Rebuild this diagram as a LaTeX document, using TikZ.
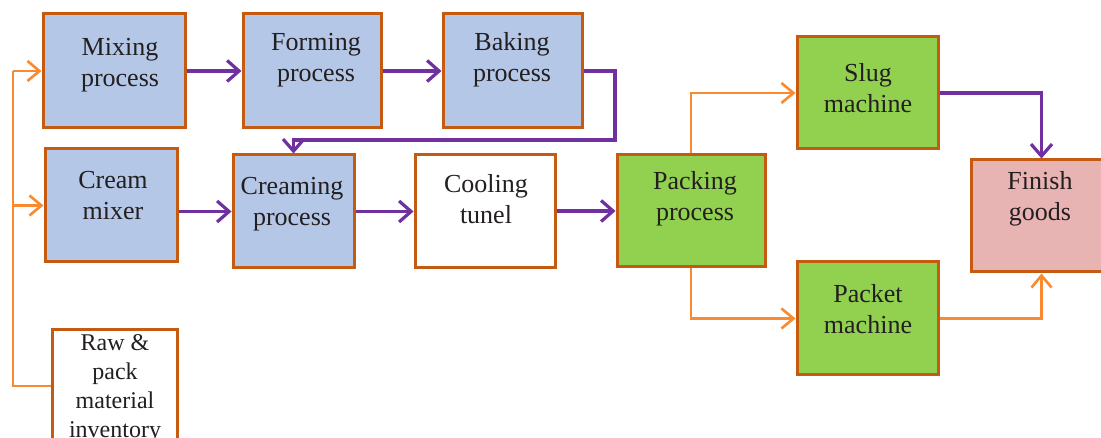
\documentclass[tikz,border=0pt]{standalone}
\usepackage{fontspec}
\setmainfont{Liberation Serif}
\usetikzlibrary{arrows.meta}
\definecolor{bord}{HTML}{C55A11}
\definecolor{bluef}{HTML}{B4C7E7}
\definecolor{greenf}{HTML}{92D050}
\definecolor{pinkf}{HTML}{E8B3B3}
\definecolor{oline}{HTML}{FA8A30}
\definecolor{pline}{HTML}{7030A0}
\definecolor{txt}{HTML}{231F20}
\tikzset{
  box/.style={draw=bord, line width=3pt, inner sep=0pt},
  lbl/.style={align=center, text=txt, font=\fontsize{26}{31}\selectfont, inner sep=0pt},
  oarr/.style={draw=oline, line width=2.6pt, -{Straight Barb[length=12pt,width=20pt,line width=2.6pt]}},
  oline/.style={draw=oline, line width=2.6pt},
  parr/.style={draw=pline, line width=3.2pt, -{Straight Barb[length=12pt,width=21pt,line width=3.2pt]}},
}
\begin{document}
\begin{tikzpicture}[x=1pt,y=-1pt]
\useasboundingbox (0,0) rectangle (1101,438);
% boxes
\node[box, fill=bluef, minimum width=142pt, minimum height=114pt] (mix) at (114,71) {};
\node[box, fill=bluef, minimum width=138pt, minimum height=114pt] (form) at (312,71) {};
\node[box, fill=bluef, minimum width=139pt, minimum height=114pt] (bake) at (512.5,71) {};
\node[box, fill=bluef, minimum width=132pt, minimum height=113pt] (cream) at (111,205.5) {};
\node[box, fill=bluef, minimum width=121pt, minimum height=113pt] (creaming) at (293.5,211.5) {};
\node[box, fill=white, minimum width=140pt, minimum height=113pt] (cool) at (485,211.5) {};
\node[box, fill=greenf, minimum width=148pt, minimum height=112pt] (pack) at (691,211) {};
\node[box, fill=greenf, minimum width=141pt, minimum height=112pt] (slug) at (867.5,93) {};
\node[box, fill=greenf, minimum width=141pt, minimum height=113pt] (packet) at (867.5,318.5) {};
\node[box, fill=pinkf, minimum width=141pt, minimum height=112pt] (finish) at (1041.5,216) {};
\node[box, fill=white, minimum width=125pt, minimum height=112pt] (raw) at (114.5,386) {};
% labels
\node[lbl] (mixT) at (120,65) {Mixing\\process};
\node[lbl] (formT) at (316,60) {Forming\\process};
\node[lbl] (bakeT) at (512,60) {Baking\\process};
\node[lbl] (creamT) at (113,196) {Cream\\mixer};
\node[lbl] (creamingT) at (292,204) {Creaming\\process};
\node[lbl] (coolT) at (486,199) {Cooling\\tunel};
\node[lbl] (packT) at (695,199) {Packing\\process};
\node[lbl] (slugT) at (868,88) {Slug\\machine};
\node[lbl] (packetT) at (868,309) {Packet\\machine};
\node[lbl] (finishT) at (1040,199) {Finish\\goods};
\node[lbl, font=\fontsize{24}{29}\selectfont] (rawT) at (115,389) {Raw \&\\pack\\material\\inventory};
% orange supply lines
\coordinate (trunkTop) at (13,71);
\coordinate (trunkMid) at (13,205.5);
\draw[oline] (raw.west) -| (trunkTop);
\draw[oarr] (trunkTop) -- (mix.west);
\draw[oarr] (trunkMid) -- (cream.west);
% purple process flow
\draw[parr] (mix.east) -- (form.west);
\draw[parr] (form.east) -- (bake.west);
\coordinate (turn) at (615,140);
\draw[parr] (bake.east) -| (turn) -| (creaming.north);
\draw[parr] (cream.east |- creaming.west) -- (creaming.west);
\draw[parr] (creaming.east) -- (cool.west);
\draw[parr] (cool.east |- pack.west) -- (pack.west);
% packing branches
\draw[oarr] (pack.north) |- (slug.west);
\draw[oarr] (pack.south) |- (packet.west);
\draw[parr] (slug.east) -| (finish.north);
\draw[oarr] (packet.east) -| (finish.south);
\end{tikzpicture}
\end{document}
